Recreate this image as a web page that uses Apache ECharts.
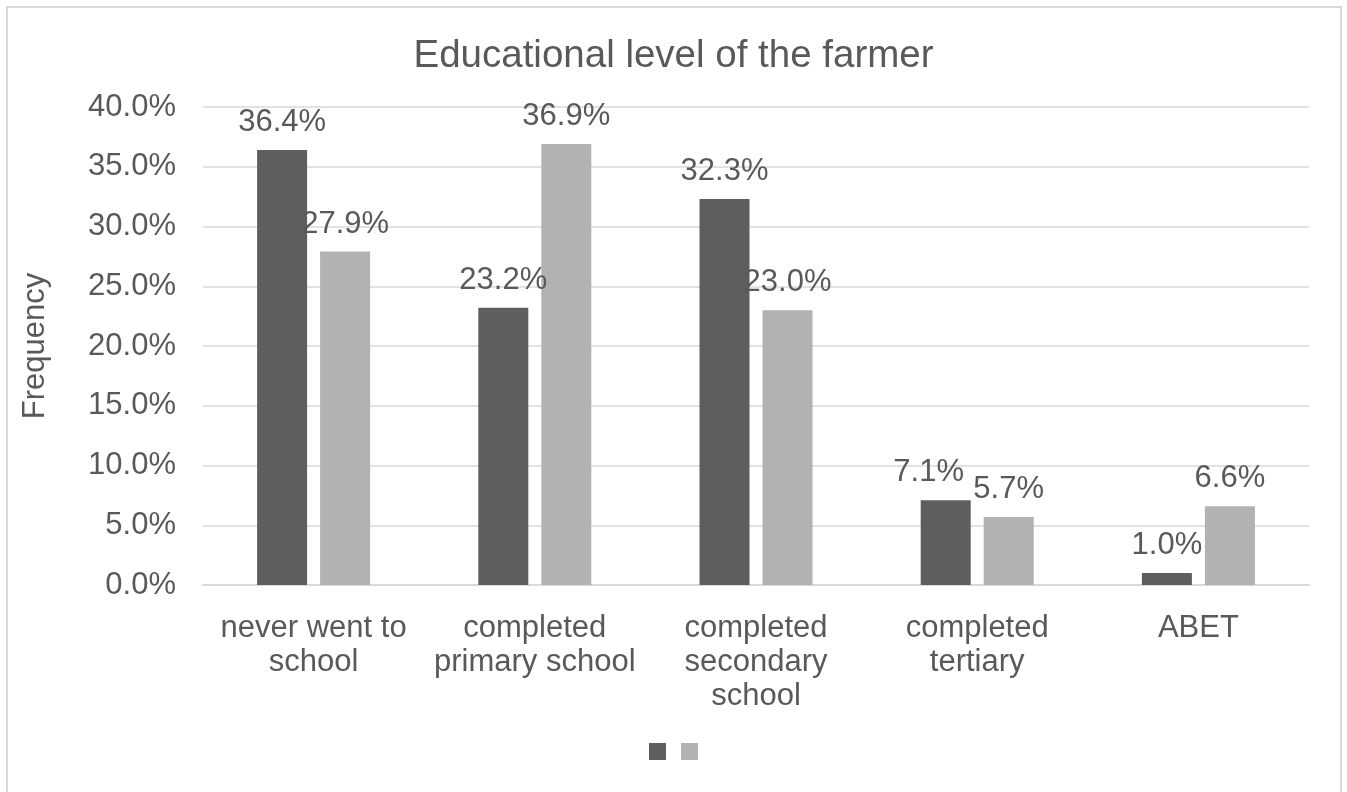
<!DOCTYPE html>
<html>
<head>
<meta charset="utf-8">
<script src="https://cdn.jsdelivr.net/npm/echarts@6/dist/echarts.min.js"></script>
<style>
  html, body { margin: 0; padding: 0; background: #fff; }
  #chart { width: 1347px; height: 792px; }
</style>
</head>
<body>
<div id="chart"></div>
<script>
// Education levels of surveyed farmers (share of respondents, %)
const categories = [
  'never went to\nschool',
  'completed\nprimary school',
  'completed\nsecondary\nschool',
  'completed\ntertiary',
  'ABET'
];
const seriesDark = [36.4, 23.2, 32.3, 7.1, 1.0];
const seriesLight = [27.9, 36.9, 23.0, 5.7, 6.6];
const yTicks = { min: 0, max: 40, interval: 5 };

const textColor = '#595959';
const font = 'Liberation Sans, Arial, sans-serif';
const fs = 31;

const chart = echarts.init(document.getElementById('chart'));

function labelCfg() {
  return {
    show: true,
    position: 'top',
    distance: 12,
    color: textColor,
    fontSize: fs,
    fontFamily: font,
    formatter: p => p.value.toFixed(1) + '%'
  };
}

// The 7.1% label sits slightly left so it does not collide with its neighbour
const darkData = seriesDark.map((v, i) => i === 3
  ? { value: v, label: { offset: [-17, 0] } }
  : v);

chart.setOption({
  animation: false,
  textStyle: { fontFamily: font },
  graphic: [{
    type: 'rect',
    shape: { x: 7, y: 7, width: 1334, height: 800 },
    style: { fill: 'none', stroke: '#d9d9d9', lineWidth: 2 },
    silent: true
  }],
  title: {
    text: 'Educational level of the farmer',
    left: 'center',
    top: 32,
    textStyle: { color: textColor, fontSize: 38.5, fontWeight: 'normal', fontFamily: font }
  },
  legend: {
    bottom: 27,
    left: 'center',
    itemWidth: 17,
    itemHeight: 17,
    itemGap: 15,
    icon: 'rect',
    formatter: () => '',
    data: ['Series1', 'Series2']
  },
  grid: { left: 203, right: 38, top: 107, bottom: 207, containLabel: false },
  xAxis: {
    type: 'category',
    data: categories,
    axisLine: { lineStyle: { color: '#d9d9d9', width: 2 } },
    axisTick: { show: false },
    axisLabel: {
      color: textColor,
      fontSize: fs,
      lineHeight: 34,
      margin: 26,
      interval: 0,
      fontFamily: font
    }
  },
  yAxis: {
    type: 'value',
    min: yTicks.min,
    max: yTicks.max,
    interval: yTicks.interval,
    name: 'Frequency',
    nameLocation: 'middle',
    nameGap: 152,
    nameRotate: 90,
    nameTextStyle: { color: textColor, fontSize: fs, fontFamily: font },
    axisLine: { show: false },
    axisTick: { show: false },
    splitLine: { lineStyle: { color: '#d9d9d9', width: 1.5 } },
    axisLabel: {
      color: textColor,
      fontSize: fs,
      margin: 27,
      fontFamily: font,
      formatter: v => v.toFixed(1) + '%'
    }
  },
  series: [
    {
      name: 'Series1',
      type: 'bar',
      data: darkData,
      barWidth: 50,
      barGap: '26%',
      itemStyle: { color: '#5e5e5e' },
      label: labelCfg()
    },
    {
      name: 'Series2',
      type: 'bar',
      data: seriesLight,
      barWidth: 50,
      itemStyle: { color: '#b2b2b2' },
      label: labelCfg()
    }
  ]
});
</script>
</body>
</html>
